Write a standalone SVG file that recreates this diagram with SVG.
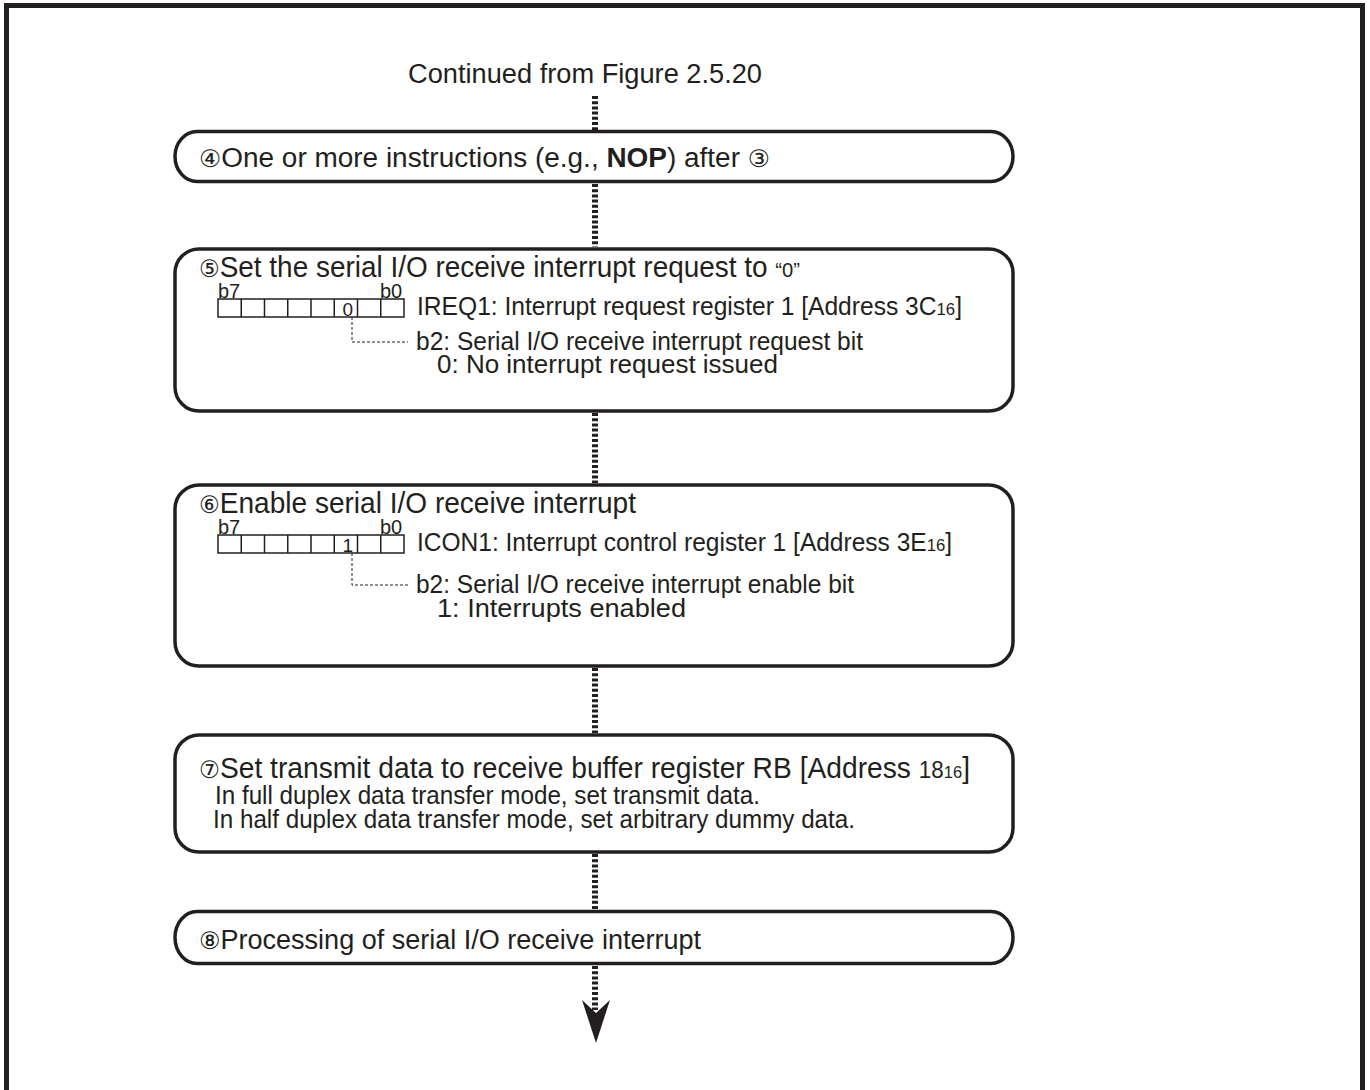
<svg xmlns="http://www.w3.org/2000/svg" width="1370" height="1090" viewBox="0 0 1370 1090">
<style>
text{font-family:"Liberation Sans",Arial,"DejaVu Sans",sans-serif;fill:#231f20}
.big{font-size:27px}
.title{font-size:29px}
.sub{font-size:25px}
.bit{font-size:20px}
.cd{font-family:"DejaVu Sans",sans-serif;font-size:24px}
.sm{font-size:17px}
.box{fill:#fff;stroke:#231f20;stroke-width:3.5}
.reg{fill:none;stroke:#231f20;stroke-width:1.5}
.lead{fill:none;stroke:#231f20;stroke-width:1;stroke-dasharray:3 2}
.dot{fill:none;stroke:#231f20;stroke-width:6;stroke-dasharray:3 2.2}
</style>
<rect x="6.5" y="5.5" width="1356" height="1100" fill="#fff" stroke="#231f20" stroke-width="5"/>
<text id="caption" class="big" x="408" y="83" textLength="354" lengthAdjust="spacingAndGlyphs">Continued from Figure 2.5.20</text>
<g id="connectors">
<line class="dot" x1="595" y1="96" x2="595" y2="130"/>
<line class="dot" x1="595" y1="184" x2="595" y2="247"/>
<line class="dot" x1="595" y1="413" x2="595" y2="483"/>
<line class="dot" x1="595" y1="668" x2="595" y2="733"/>
<line class="dot" x1="595" y1="854" x2="595" y2="910"/>
<line class="dot" x1="595" y1="966" x2="595" y2="1010"/>
<polygon points="596,1043 582,1000 596,1013 610,1000" fill="#231f20"/>
</g>
<g id="step4">
<rect class="box" x="175" y="131.5" width="838" height="50" rx="22" ry="25"/>
<text class="big" x="199" y="167" textLength="571" lengthAdjust="spacingAndGlyphs"><tspan class="cd">④</tspan>One or more instructions (e.g., <tspan font-weight="bold">NOP</tspan>) after <tspan class="cd">③</tspan></text>
</g>
<g id="step5">
<rect class="box" x="175" y="249" width="838" height="162" rx="24" ry="24"/>
<text class="title" x="199" y="277" textLength="601" lengthAdjust="spacingAndGlyphs"><tspan class="cd">⑤</tspan>Set the serial I/O receive interrupt request to <tspan font-size="21">“0”</tspan></text>
<text class="bit" x="218" y="297.5">b7</text>
<text class="bit" x="380" y="297.5">b0</text>
<rect class="reg" x="218" y="299" width="186" height="18"/>
<path class="reg" d="M241.25,299V317M264.5,299V317M287.75,299V317M311,299V317M334.25,299V317M357.5,299V317M380.75,299V317"/>
<text x="353" y="315.5" font-size="19" text-anchor="end">0</text>
<text class="sub" x="417" y="315" textLength="545" lengthAdjust="spacingAndGlyphs">IREQ1: Interrupt request register 1 [Address 3C<tspan class="sm">16</tspan>]</text>
<path class="lead" d="M352,317V342H408"/>
<text class="sub" x="416" y="350" textLength="447" lengthAdjust="spacingAndGlyphs">b2: Serial I/O receive interrupt request bit</text>
<text class="sub" x="437" y="373" textLength="341" lengthAdjust="spacingAndGlyphs">0: No interrupt request issued</text>
</g>
<g id="step6">
<rect class="box" x="175" y="485" width="838" height="181" rx="24" ry="24"/>
<text class="title" x="199" y="513" textLength="437" lengthAdjust="spacingAndGlyphs"><tspan class="cd">⑥</tspan>Enable serial I/O receive interrupt</text>
<text class="bit" x="218" y="533.5">b7</text>
<text class="bit" x="380" y="533.5">b0</text>
<rect class="reg" x="218" y="535" width="186" height="18"/>
<path class="reg" d="M241.25,535V553M264.5,535V553M287.75,535V553M311,535V553M334.25,535V553M357.5,535V553M380.75,535V553"/>
<text x="353" y="551.5" font-size="19" text-anchor="end">1</text>
<text class="sub" x="417" y="551" textLength="535" lengthAdjust="spacingAndGlyphs">ICON1: Interrupt control register 1 [Address 3E<tspan class="sm">16</tspan>]</text>
<path class="lead" d="M352,553V585H408"/>
<text class="sub" x="416" y="593" textLength="438" lengthAdjust="spacingAndGlyphs">b2: Serial I/O receive interrupt enable bit</text>
<text class="sub" x="437" y="617" textLength="249" lengthAdjust="spacingAndGlyphs">1: Interrupts enabled</text>
</g>
<g id="step7">
<rect class="box" x="175" y="735" width="838" height="117" rx="24" ry="24"/>
<text class="title" x="199" y="778" textLength="771" lengthAdjust="spacingAndGlyphs"><tspan class="cd">⑦</tspan>Set transmit data to receive buffer register RB [Address <tspan font-size="23">18</tspan><tspan class="sm">16</tspan>]</text>
<text class="sub" x="215" y="804" textLength="545" lengthAdjust="spacingAndGlyphs">In full duplex data transfer mode, set transmit data.</text>
<text class="sub" x="213" y="828" textLength="642" lengthAdjust="spacingAndGlyphs">In half duplex data transfer mode, set arbitrary dummy data.</text>
</g>
<g id="step8">
<rect class="box" x="175" y="911.5" width="838" height="52" rx="22" ry="26"/>
<text class="big" x="199" y="949" textLength="502" lengthAdjust="spacingAndGlyphs"><tspan class="cd">⑧</tspan>Processing of serial I/O receive interrupt</text>
</g>
</svg>
